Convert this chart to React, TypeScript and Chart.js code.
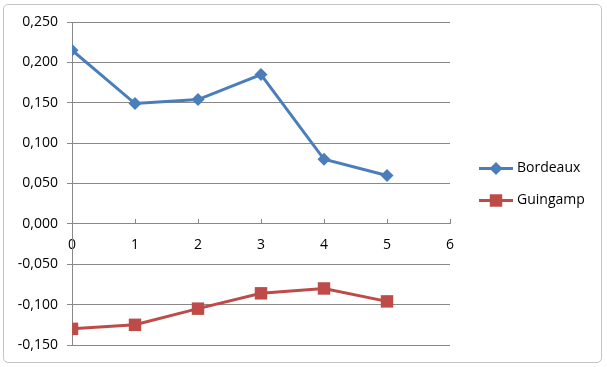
import React, { useEffect, useRef } from "react";
import { Chart, registerables } from "chart.js";

Chart.register(...registerables);

const xValues = [0, 1, 2, 3, 4, 5];
const bordeaux = [0.215, 0.149, 0.154, 0.185, 0.08, 0.06];
const guingamp = [-0.13, -0.125, -0.105, -0.086, -0.08, -0.096];
const seriesNames = ["Bordeaux", "Guingamp"];
const seriesColors = ["#4A7EBB", "#BE4B48"];

const GRID = "#888888";
const FONT = "'Open Sans', 'Noto Sans', sans-serif";

function fmt(v: number) {
  const s = (Math.abs(v) < 1e-9 ? 0 : v).toFixed(3).replace(".", ",");
  return s;
}

function drawMarker(ctx: CanvasRenderingContext2D, style: string, x: number, y: number, r: number, color: string) {
  ctx.save();
  ctx.fillStyle = color;
  ctx.beginPath();
  if (style === "rectRot") {
    ctx.moveTo(x, y - r);
    ctx.lineTo(x + r, y);
    ctx.lineTo(x, y + r);
    ctx.lineTo(x - r, y);
    ctx.closePath();
  } else {
    const h = r * Math.SQRT1_2;
    ctx.rect(x - h, y - h, 2 * h, 2 * h);
  }
  ctx.fill();
  ctx.restore();
}

const legendPlugin = {
  id: "customLegend",
  afterDraw(chart: any) {
    const { ctx, chartArea } = chart;
    const midY = (chartArea.top + chartArea.bottom) / 2;
    const x0 = chartArea.right + 29;
    chart.data.datasets.forEach((ds: any, i: number) => {
      const y = Math.round(midY - 16 + i * 32) + 0.5;
      ctx.save();
      ctx.strokeStyle = ds.borderColor;
      ctx.lineWidth = ds.borderWidth;
      ctx.beginPath();
      ctx.moveTo(x0, y);
      ctx.lineTo(x0 + 34, y);
      ctx.stroke();
      drawMarker(ctx, ds.pointStyle, x0 + 17, y, ds.pointRadius, ds.pointBackgroundColor);
      ctx.fillStyle = "#000";
      ctx.font = `14px ${FONT}`;
      ctx.textBaseline = "middle";
      ctx.textAlign = "left";
      ctx.fillText(ds.label, x0 + 38, y);
      ctx.restore();
    });
  },
};

export default function App() {
  const ref = useRef<HTMLCanvasElement | null>(null);
  useEffect(() => {
    if (!ref.current) return;
    const chart = new Chart(ref.current, {
      type: "line",
      data: {
        datasets: [
          {
            label: seriesNames[0],
            data: xValues.map((x, i) => ({ x, y: bordeaux[i] })),
            borderColor: seriesColors[0],
            backgroundColor: seriesColors[0],
            pointBackgroundColor: seriesColors[0],
            pointBorderColor: seriesColors[0],
            pointBorderWidth: 0,
            pointStyle: "rectRot",
            pointRadius: 6.5,
            borderWidth: 3,
            tension: 0,
          },
          {
            label: seriesNames[1],
            data: xValues.map((x, i) => ({ x, y: guingamp[i] })),
            borderColor: seriesColors[1],
            backgroundColor: seriesColors[1],
            pointBackgroundColor: seriesColors[1],
            pointBorderColor: seriesColors[1],
            pointBorderWidth: 0,
            pointStyle: "rect",
            pointRadius: 8.8,
            borderWidth: 3,
            tension: 0,
          },
        ],
      },
      options: {
        animation: false,
        responsive: false,
        layout: { padding: { top: 22, bottom: 22, left: 8, right: 157 } },
        plugins: { legend: { display: false }, tooltip: { enabled: false } },
        font: { family: FONT },
        scales: {
          x: {
            type: "linear",
            position: { y: 0 } as any,
            min: 0,
            max: 6,
            ticks: {
              stepSize: 1,
              color: "#000",
              font: { family: FONT, size: 14 },
              padding: 18,
              maxRotation: 0,
            },
            grid: {
              drawOnChartArea: false,
              drawTicks: true,
              tickLength: -5,
              color: GRID,
              lineWidth: 1,
            },
            border: { display: true, color: GRID, width: 1 },
          },
          y: {
            type: "linear",
            min: -0.15,
            max: 0.25,
            afterFit: (scale: any) => {
              scale.width = 64;
            },
            ticks: {
              stepSize: 0.05,
              color: "#000",
              font: { family: FONT, size: 14 },
              padding: 9,
              callback: (v: any) => fmt(Number(v)),
            },
            grid: {
              color: GRID,
              lineWidth: 1,
              drawTicks: true,
              tickLength: 5,
            },
            border: { display: true, color: GRID, width: 1 },
          },
        },
      },
      plugins: [legendPlugin],
    });
    return () => chart.destroy();
  }, []);

  return (
    <div style={{ position: "absolute", left: 0, top: 0, width: 607, height: 367, background: "#ffffff", overflow: "hidden" }}>
      <div
        style={{
          position: "absolute",
          left: 3,
          top: 4,
          width: 597,
          height: 357,
          border: "1px solid #c4c4c4",
          borderRadius: 5,
          boxSizing: "content-box",
        }}
      />
      <canvas
        ref={ref}
        width={607}
        height={367}
        style={{ position: "absolute", left: 0, top: 0, width: 607, height: 367 }}
      />
    </div>
  );
}
